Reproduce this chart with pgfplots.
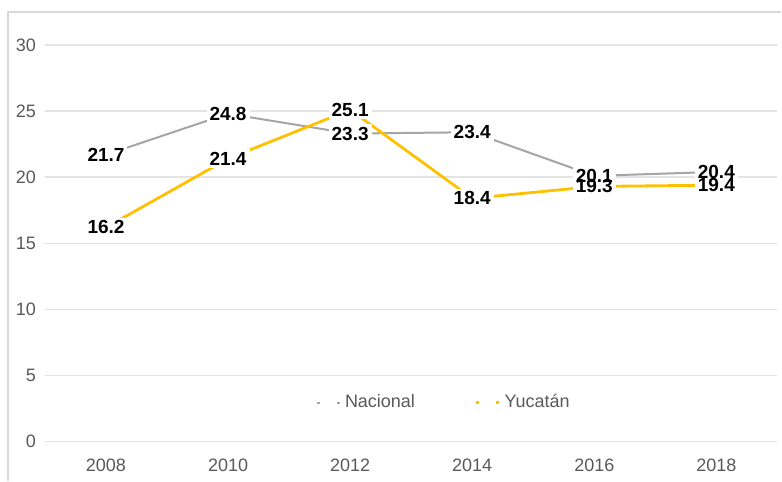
\documentclass[border=0pt]{standalone}
\usepackage{pgfplots}
\pgfplotsset{compat=1.18}
\usepackage{fontspec}
\setmainfont{Liberation Sans}
\definecolor{nacional}{HTML}{A5A5A5}
\definecolor{yucatan}{HTML}{FFC000}
\definecolor{tickgray}{HTML}{595959}
\definecolor{gridgray}{HTML}{E3E3E3}
\definecolor{framegray}{HTML}{D9D9D9}
\begin{document}
\begin{tikzpicture}
\begin{axis}[
 name=ax,
 scale only axis,width=366.5pt,height=198.5pt,
 xmin=-0.5,xmax=5.5,ymin=0,ymax=30,
 xtick={0,1,2,3,4,5},
 xticklabels={2008,2010,2012,2014,2016,2018},
 ytick={0,5,10,15,20,25,30},
 axis line style={draw=none},
 major tick length=0pt,
 ymajorgrids,grid style={gridgray,line width=0.8pt},
 tick label style={font=\fontsize{9}{10}\selectfont,text=tickgray},
 yticklabel style={xshift=-1pt},
 xticklabel style={yshift=-5pt},
 /pgf/number format/assume math mode=true,
 clip=false,
 legend columns=2,
 legend style={draw=none,fill=none,at={(0.546,0.098)},anchor=center,
   font=\fontsize{9}{10}\selectfont,text=tickgray,
   /tikz/every even column/.append style={column sep=28pt}},
 legend image code/.code={
   \draw[#1] (0pt,0pt) -- (1.5pt,0pt);
   \draw[#1] (10pt,0pt) -- (11.5pt,0pt);},
]
\addplot[nacional,line width=1pt] coordinates
 {(0,21.7) (1,24.8) (2,23.3) (3,23.4) (4,20.1) (5,20.4)};
\addlegendentry{Nacional}
\addplot[yucatan,line width=1.4pt] coordinates
 {(0,16.2) (1,21.4) (2,25.1) (3,18.4) (4,19.3) (5,19.4)};
\addlegendentry{Yucatán}
% white boxes behind the labels
\addplot[draw=none,forget plot,nodes near coords,
 nodes near coords style={anchor=center,fill=white,text opacity=0,inner sep=1.5pt,
   font=\bfseries\fontsize{9.5}{10}\selectfont,
   /pgf/number format/.cd,fixed,precision=1,fixed zerofill}] coordinates
 {(0,21.7) (1,24.8) (2,23.3) (3,23.4) (4,20.1) (5,20.4)
  (0,16.2) (1,21.4) (2,25.1) (3,18.4) (4,19.3) (5,19.4)};
% label text
\addplot[draw=none,forget plot,nodes near coords,
 nodes near coords style={anchor=center,text=black,inner sep=1.5pt,
   font=\bfseries\fontsize{9.5}{10}\selectfont,
   /pgf/number format/.cd,fixed,precision=1,fixed zerofill}] coordinates
 {(0,21.7) (1,24.8) (2,23.3) (3,23.4) (4,20.1) (5,20.4)
  (0,16.2) (1,21.4) (2,25.1) (3,18.4) (4,19.3) (5,19.4)};
\end{axis}
\draw[framegray,line width=0.6pt] ([shift={(-18.5pt,-19.5pt)}]ax.south west) -- ++(0,234.5pt) -- ++(387pt,0);
\path[use as bounding box] ([shift={(-22.5pt,-19.5pt)}]ax.south west) rectangle ++(391pt,240.5pt);
\end{tikzpicture}
\end{document}
